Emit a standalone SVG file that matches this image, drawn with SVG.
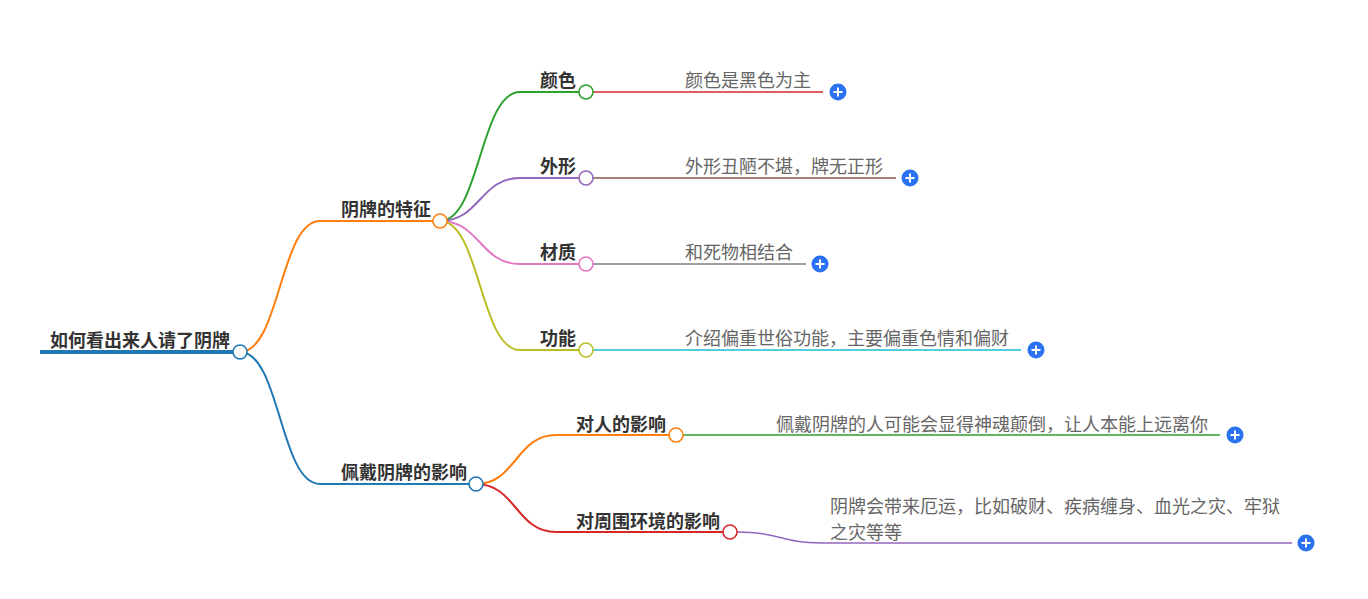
<svg xmlns="http://www.w3.org/2000/svg" width="1368" height="599" viewBox="0 0 1368 599">
<style>
.lbl{font-family:"Noto Sans CJK SC","Noto Sans",sans-serif;font-size:18px;font-weight:bold;fill:#333}
.leaf{font-family:"Noto Sans CJK SC","Noto Sans",sans-serif;font-size:18px;fill:#666}
.c{fill:none;stroke-width:2}
.l{fill:none;stroke-width:1.6}
.dot{fill:#fff;stroke-width:1.6}
.plus circle{fill:#2a72f0}
.plus path{stroke:#fff;stroke-width:2;fill:none}
</style>
<rect width="1368" height="599" fill="#fff"/>
<g id="connectors">
  <path d="M40 352 L240 352" stroke="#1f77b4" stroke-width="4" fill="none"/>
  <path class="c" stroke="#ff7f0e" d="M240 352 C280 352 280 221 320 221 L440 221"/>
  <path class="c" stroke="#1f77b4" d="M240 352 C280 352 280 484 320 484 L476 484"/>
  <path class="c" stroke="#2ca02c" d="M440 221 C480 221 480 92 520 92 L586 92"/>
  <path class="c" stroke="#9467bd" d="M440 221 C480 221 480 178 520 178 L586 178"/>
  <path class="c" stroke="#e377c2" d="M440 221 C480 221 480 264 520 264 L586 264"/>
  <path class="c" stroke="#bcbd22" d="M440 221 C480 221 480 350 520 350 L586 350"/>
  <path class="c" stroke="#ff7f0e" d="M476 484 C516 484 516 435 556 435 L676 435"/>
  <path class="c" stroke="#d62728" d="M476 484 C516 484 516 532 556 532 L730 532"/>
  <path class="l" stroke="#d62728" d="M593 92 L823 92"/>
  <path class="l" stroke="#8c564b" d="M593 178 L896 178"/>
  <path class="l" stroke="#7f7f7f" d="M593 264 L806 264"/>
  <path class="l" stroke="#17becf" d="M593 350 L1021 350"/>
  <path class="l" stroke="#2ca02c" d="M683 435 L1220 435"/>
  <path class="l" stroke="#9467bd" d="M737 532 C780 532 780 543 822 543 L1292 543"/>
</g>
<g id="root">
  <text class="lbl" x="50" y="347">如何看出来人请了阴牌</text>
  <circle class="dot" cx="240" cy="352" r="7" stroke="#1f77b4"/>
</g>
<g id="n-features">
  <text class="lbl" x="341" y="216">阴牌的特征</text>
  <circle class="dot" cx="440" cy="221" r="7" stroke="#ff7f0e"/>
</g>
<g id="n-color">
  <text class="lbl" x="540" y="87">颜色</text>
  <circle class="dot" cx="586" cy="92" r="7" stroke="#2ca02c"/>
</g>
<g id="leaf-color">
  <text class="leaf" x="685" y="87">颜色是黑色为主</text>
  <g class="plus"><circle cx="838" cy="92" r="8.5"/><path d="M833.5 92 H842.5 M838 87.5 V96.5"/></g>
</g>
<g id="n-shape">
  <text class="lbl" x="540" y="173">外形</text>
  <circle class="dot" cx="586" cy="178" r="7" stroke="#9467bd"/>
</g>
<g id="leaf-shape">
  <text class="leaf" x="685" y="173">外形丑陋不堪，牌无正形</text>
  <g class="plus"><circle cx="910" cy="178" r="8.5"/><path d="M905.5 178 H914.5 M910 173.5 V182.5"/></g>
</g>
<g id="n-material">
  <text class="lbl" x="540" y="259">材质</text>
  <circle class="dot" cx="586" cy="264" r="7" stroke="#e377c2"/>
</g>
<g id="leaf-material">
  <text class="leaf" x="685" y="259">和死物相结合</text>
  <g class="plus"><circle cx="820" cy="264" r="8.5"/><path d="M815.5 264 H824.5 M820 259.5 V268.5"/></g>
</g>
<g id="n-function">
  <text class="lbl" x="540" y="345">功能</text>
  <circle class="dot" cx="586" cy="350" r="7" stroke="#bcbd22"/>
</g>
<g id="leaf-function">
  <text class="leaf" x="685" y="345">介绍偏重世俗功能，主要偏重色情和偏财</text>
  <g class="plus"><circle cx="1036" cy="350" r="8.5"/><path d="M1031.5 350 H1040.5 M1036 345.5 V354.5"/></g>
</g>
<g id="n-effects">
  <text class="lbl" x="341" y="479">佩戴阴牌的影响</text>
  <circle class="dot" cx="476" cy="484" r="7" stroke="#1f77b4"/>
</g>
<g id="n-person">
  <text class="lbl" x="576" y="431">对人的影响</text>
  <circle class="dot" cx="676" cy="435" r="7" stroke="#ff7f0e"/>
</g>
<g id="leaf-person">
  <text class="leaf" x="776" y="431">佩戴阴牌的人可能会显得神魂颠倒，让人本能上远离你</text>
  <g class="plus"><circle cx="1235" cy="435" r="8.5"/><path d="M1230.5 435 H1239.5 M1235 430.5 V439.5"/></g>
</g>
<g id="n-env">
  <text class="lbl" x="576" y="528">对周围环境的影响</text>
  <circle class="dot" cx="730" cy="532" r="7" stroke="#d62728"/>
</g>
<g id="leaf-env">
  <text class="leaf" x="830" y="513">阴牌会带来厄运，比如破财、疾病缠身、血光之灾、牢狱</text>
  <text class="leaf" x="830" y="539">之灾等等</text>
  <g class="plus"><circle cx="1306" cy="543" r="8.5"/><path d="M1301.5 543 H1310.5 M1306 538.5 V547.5"/></g>
</g>
</svg>
